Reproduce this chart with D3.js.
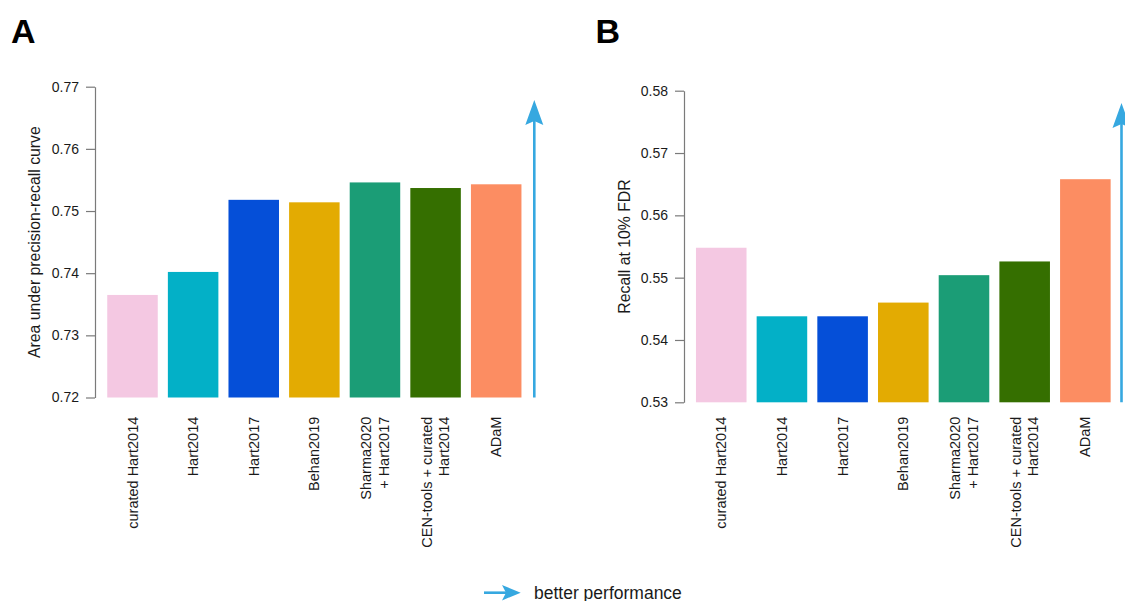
<!DOCTYPE html>
<html>
<head>
<meta charset="utf-8">
<script src="https://cdn.jsdelivr.net/npm/d3@7/dist/d3.min.js"></script>
<style>
  html, body { margin: 0; padding: 0; background: #fff; }
  svg { display: block; font-family: "Liberation Sans", Arial, Helvetica, sans-serif; }
</style>
</head>
<body>
<svg id="chart" width="1125" height="601"></svg>
<script>
// Gene-set methods compared in both panels (line breaks split long labels)
const methods = [
  "curated Hart2014",
  "Hart2014",
  "Hart2017",
  "Behan2019",
  "Sharma2020\n+ Hart2017",
  "CEN-tools + curated\nHart2014",
  "ADaM"
];
const barColors = ["#F4C8E2", "#03B0C7", "#054FD8", "#E3AB02", "#1B9D76", "#356F00", "#FC8D62"];

// Panel A: area under the precision-recall curve
const aucValues = [0.7365, 0.7402, 0.7518, 0.7514, 0.7546, 0.7537, 0.7543];
const aucTicks = [0.72, 0.73, 0.74, 0.75, 0.76, 0.77];

// Panel B: recall at 10% FDR
const recallValues = [0.5548, 0.5438, 0.5438, 0.5460, 0.5504, 0.5526, 0.5658];
const recallTicks = [0.53, 0.54, 0.55, 0.56, 0.57, 0.58];

const arrowColor = "#36A8E0";
const svg = d3.select("#chart");

function arrowHead(g, x, tipY) {
  // upward arrow head with a notched back
  g.append("path")
    .attr("d", `M${x},${tipY} L${x + 9},${tipY + 25} L${x},${tipY + 21} L${x - 9},${tipY + 25} Z`)
    .attr("fill", arrowColor);
}

function panel(cfg) {
  const g = svg.append("g");

  const x = d3.scaleBand()
    .domain(methods)
    .range([cfg.left, cfg.right])
    .paddingInner(1 / 6)
    .paddingOuter(1 / 12);

  const y = d3.scaleLinear()
    .domain(d3.extent(cfg.ticks))
    .range([cfg.bottom, cfg.top]);

  // y axis
  const axis = g.append("g")
    .attr("transform", `translate(${cfg.axisX},0)`)
    .call(d3.axisLeft(y).tickValues(cfg.ticks).tickFormat(d3.format(".2f")).tickSize(9).tickSizeOuter(0).tickPadding(7));
  axis.select(".domain").attr("stroke", "#7a7a7a").attr("stroke-width", 1.2);
  axis.selectAll(".tick line").attr("stroke", "#7a7a7a").attr("stroke-width", 1.2);
  axis.selectAll(".tick text")
    .attr("fill", "#1a1a1a")
    .style("font-size", "14px")
    .style("font-family", "'Liberation Sans', Arial, sans-serif");

  // y axis title
  g.append("text")
    .attr("transform", `translate(${cfg.titleX},${(y.range()[0] + y.range()[1]) / 2}) rotate(-90)`)
    .attr("text-anchor", "middle")
    .attr("dominant-baseline", "central")
    .attr("fill", "#1a1a1a")
    .style("font-size", "15.8px")
    .text(cfg.title);

  // bars
  g.selectAll("rect.bar")
    .data(cfg.values)
    .join("rect")
    .attr("class", "bar")
    .attr("x", (d, i) => x(methods[i]))
    .attr("width", x.bandwidth())
    .attr("y", d => y(d))
    .attr("height", d => y.range()[0] - y(d))
    .attr("fill", (d, i) => barColors[i]);

  // rotated category labels
  const labels = g.selectAll("g.lab")
    .data(methods)
    .join("g")
    .attr("class", "lab")
    .attr("transform", d => `translate(${x(d) + x.bandwidth() / 2},${cfg.labelTop}) rotate(-90)`);
  labels.each(function (d) {
    const lines = d.split("\n");
    const lh = 17.4;
    const off = -(lines.length - 1) * lh / 2;
    d3.select(this).selectAll("text")
      .data(lines)
      .join("text")
      .attr("x", 0)
      .attr("y", (l, i) => off + i * lh)
      .attr("text-anchor", "end")
      .attr("dominant-baseline", "central")
      .attr("fill", "#1a1a1a")
      .style("font-size", "14.5px")
      .text(l => l);
  });

  // "better" arrow at the right of the bars
  g.append("line")
    .attr("x1", cfg.arrowX).attr("x2", cfg.arrowX)
    .attr("y1", cfg.bottom).attr("y2", cfg.arrowTip + 18)
    .attr("stroke", arrowColor)
    .attr("stroke-width", 2.6);
  arrowHead(g, cfg.arrowX, cfg.arrowTip);

  // panel letter
  g.append("text")
    .attr("x", cfg.letterX)
    .attr("y", 43)
    .attr("fill", "#000")
    .style("font-size", "34px")
    .style("font-weight", "bold")
    .text(cfg.letter);
}

panel({
  letter: "A", letterX: 11,
  values: aucValues, ticks: aucTicks,
  title: "Area under precision-recall curve", titleX: 34,
  axisX: 95, left: 102.2, right: 526.5,
  top: 86.7, bottom: 397.5, labelTop: 416.7,
  arrowX: 534.3, arrowTip: 100
});

panel({
  letter: "B", letterX: 595.5,
  values: recallValues, ticks: recallTicks,
  title: "Recall at 10% FDR", titleX: 624,
  axisX: 684, left: 690.9, right: 1115.7,
  top: 90.7, bottom: 402.3, labelTop: 416.7,
  arrowX: 1121.5, arrowTip: 103
});

// legend: arrow meaning
const leg = svg.append("g");
leg.append("line")
  .attr("x1", 484).attr("x2", 510)
  .attr("y1", 592.7).attr("y2", 592.7)
  .attr("stroke", arrowColor).attr("stroke-width", 2.6);
leg.append("path")
  .attr("d", "M520.7,592.7 L502,585 L506,592.7 L502,600.4 Z")
  .attr("fill", arrowColor);
leg.append("text")
  .attr("x", 534)
  .attr("y", 598.5)
  .attr("fill", "#1a1a1a")
  .style("font-size", "17.5px")
  .text("better performance");
</script>
</body>
</html>
